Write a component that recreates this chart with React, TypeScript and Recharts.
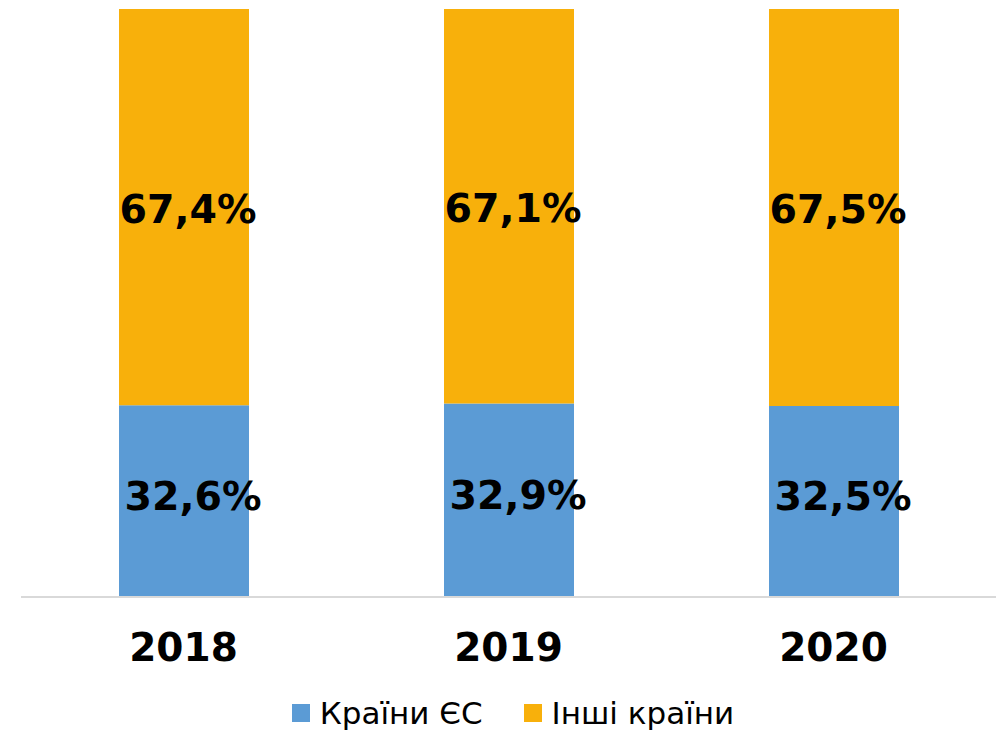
import React from "react";
import { BarChart, Bar, XAxis, YAxis, LabelList } from "recharts";

const categories = ["2018", "2019", "2020"];
const euShare = [32.6, 32.9, 32.5];
const otherShare = [67.4, 67.1, 67.5];
const seriesNames = ["Країни ЄС", "Інші країни"];
const seriesColors = ["#5B9BD5", "#F8B00B"];

const data = categories.map((c, i) => ({ year: c, eu: euShare[i], other: otherShare[i] }));

const FONT = "'DejaVu Sans', Verdana, sans-serif";

const fmt = (v: number) => v.toFixed(1).replace(".", ",") + "%";

const makeLabel = (dx: number, dy: number) => (props: any) => {
  const { x, y, width, height, value } = props;
  return (
    <text
      x={x + width / 2 + dx}
      y={y + height / 2 + dy}
      textAnchor="middle"
      fontFamily={FONT}
      fontWeight="bold"
      fontSize={39.5}
      fill="#000"
    >
      {fmt(value)}
    </text>
  );
};

const Tick = (props: any) => {
  const { x, y, payload } = props;
  return (
    <text x={x} y={y + 64} textAnchor="middle" fontFamily={FONT} fontWeight="bold" fontSize={39} fill="#000">
      {payload.value}
    </text>
  );
};

const LegendBox = () => (
  <div
    style={{
      position: "absolute",
      top: 694,
      left: 0,
      width: 1026,
      height: 38,
      display: "flex",
      justifyContent: "center",
      alignItems: "center",
      fontFamily: FONT,
      fontSize: 31,
      color: "#000",
      gap: 41,
    }}
  >
    {seriesNames.map((n, i) => (
      <div key={n} style={{ display: "flex", alignItems: "center" }}>
        <span style={{ display: "inline-block", width: 18, height: 18, background: seriesColors[i], marginRight: 10 }} />
        <span>{n}</span>
      </div>
    ))}
  </div>
);

export default function App() {
  return (
    <div style={{ position: "absolute", left: 0, top: 0, width: 996, height: 731, background: "#fff" }}>
      <BarChart width={996} height={731} data={data} margin={{ top: 9, right: 0, left: 21, bottom: 54 }}>
        <XAxis
          dataKey="year"
          axisLine={{ stroke: "#D9D9D9", strokeWidth: 2 }}
          tickLine={false}
          tickSize={0}
          tickMargin={0}
          tick={<Tick />}
          height={80}
          interval={0}
        />
        <YAxis hide domain={[0, 100]} />
        <Bar dataKey="eu" stackId="a" fill={seriesColors[0]} barSize={130} isAnimationActive={false}>
          <LabelList dataKey="eu" content={makeLabel(9, 9)} />
        </Bar>
        <Bar dataKey="other" stackId="a" fill={seriesColors[1]} barSize={130} isAnimationActive={false}>
          <LabelList dataKey="other" content={makeLabel(4, 16)} />
        </Bar>
      </BarChart>
      <LegendBox />
    </div>
  );
}
